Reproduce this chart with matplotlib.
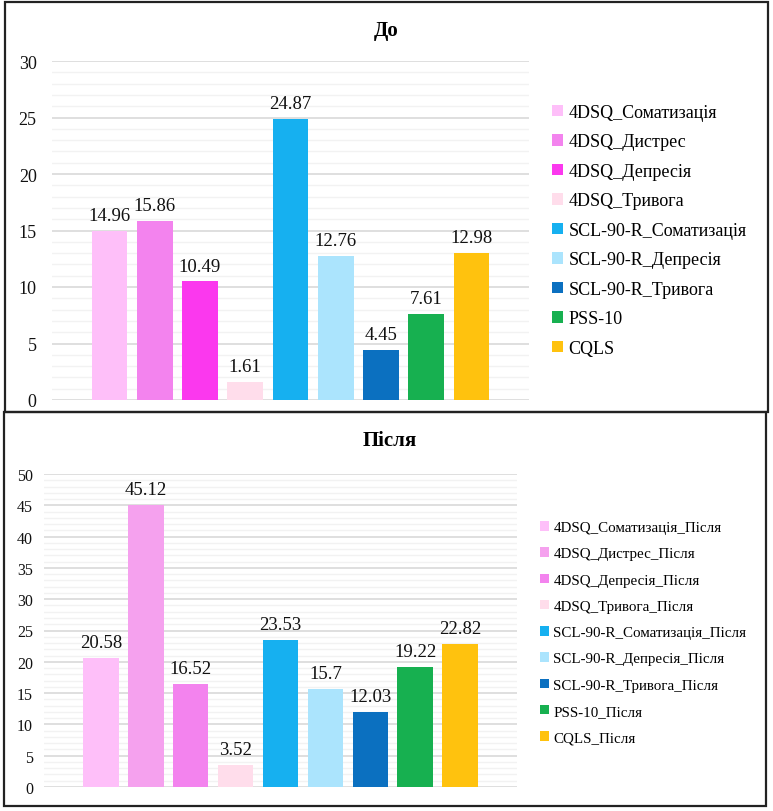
import matplotlib
matplotlib.use("Agg")
import matplotlib.pyplot as plt
from matplotlib.patches import Rectangle
from matplotlib.ticker import MultipleLocator

plt.rcParams['font.family'] = ['Liberation Serif', 'DejaVu Serif']

# ---- data ----
before_labels = ["4DSQ_Соматизація", "4DSQ_Дистрес", "4DSQ_Депресія", "4DSQ_Тривога",
                 "SCL-90-R_Соматизація", "SCL-90-R_Депресія", "SCL-90-R_Тривога",
                 "PSS-10", "CQLS"]
before_values = [14.96, 15.86, 10.49, 1.61, 24.87, 12.76, 4.45, 7.61, 12.98]
before_colors = ["#FEBFF9", "#F383EE", "#FB38EE", "#FFDDEB", "#16B0F0",
                 "#ABE4FD", "#0B70C0", "#17B050", "#FFC20E"]

after_labels = ["4DSQ_Соматизація_Після", "4DSQ_Дистрес_Після", "4DSQ_Депресія_Після",
                "4DSQ_Тривога_Після", "SCL-90-R_Соматизація_Після", "SCL-90-R_Депресія_Після",
                "SCL-90-R_Тривога_Після", "PSS-10_Після", "CQLS_Після"]
after_values = [20.58, 45.12, 16.52, 3.52, 23.53, 15.7, 12.03, 19.22, 22.82]
after_colors = ["#FEBFF9", "#F5A1EE", "#F383EE", "#FFDDEB", "#16B0F0",
                "#ABE4FD", "#0B70C0", "#17B050", "#FFC20E"]

W, H = 773, 812
fig = plt.figure(figsize=(W / 100, H / 100), dpi=100)


def px_axes(x0, y0, x1, y1):
    return fig.add_axes([x0 / W, 1 - y1 / H, (x1 - x0) / W, (y1 - y0) / H])


def draw(ax, labels, values, colors, ymax, tick_fs, lab_fs, pad):
    for i, (v, c, lab) in enumerate(zip(values, colors, labels)):
        ax.bar(i, v, width=0.79, color=c, label=lab, zorder=3)
        ax.annotate(f"{v:g}", (i, v), xytext=(0, 5), textcoords="offset points",
                    ha="center", va="bottom", fontsize=lab_fs, color="#111111")
    ax.set_xlim(-1.27, len(values) - 1 + 1.27)
    ax.set_ylim(0, ymax)
    ax.yaxis.set_major_locator(MultipleLocator(5))
    ax.yaxis.set_minor_locator(MultipleLocator(1))
    ax.grid(which="major", axis="y", color="#D9D9D9", lw=1.2, zorder=0)
    ax.grid(which="minor", axis="y", color="#F2F2F2", lw=1.0, zorder=0)
    ax.set_xticks([])
    for s in ax.spines.values():
        s.set_visible(False)
    ax.tick_params(axis="y", which="both", length=0, labelsize=tick_fs, pad=pad,
                   labelcolor="#111111")


ax1 = px_axes(52, 62, 529, 401)
draw(ax1, before_labels, before_values, before_colors, 30, 13, 13.5, 11)
ax2 = px_axes(44, 475, 517, 788)
draw(ax2, after_labels, after_values, after_colors, 50, 11.5, 13.5, 8)

fig.text(386 / W, 1 - 31 / H, "До", ha="center", va="center", fontsize=15, fontweight="bold")
fig.text(390 / W, 1 - 441 / H, "Після", ha="center", va="center", fontsize=15, fontweight="bold")

ax1.legend(loc="upper left", bbox_to_anchor=(552 / W, 1 - 105 / H),
           bbox_transform=fig.transFigure, frameon=False, fontsize=13,
           handlelength=0.6, handleheight=0.6, handletextpad=0.3,
           labelspacing=0.69, borderaxespad=0, borderpad=0)
ax2.legend(loc="upper left", bbox_to_anchor=(540 / W, 1 - 522 / H),
           bbox_transform=fig.transFigure, frameon=False, fontsize=10.8,
           handlelength=0.6, handleheight=0.6, handletextpad=0.3,
           labelspacing=0.88, borderaxespad=0, borderpad=0)

# panel frames
fig.patches.append(Rectangle((5 / W, 1 - 413 / H), 763 / W, 410 / H, transform=fig.transFigure,
                             fill=False, ec="#222222", lw=1.6))
fig.patches.append(Rectangle((4 / W, 1 - 807 / H), 762 / W, 394 / H, transform=fig.transFigure,
                             fill=False, ec="#222222", lw=1.6))

fig.savefig("out.png", dpi=100)
